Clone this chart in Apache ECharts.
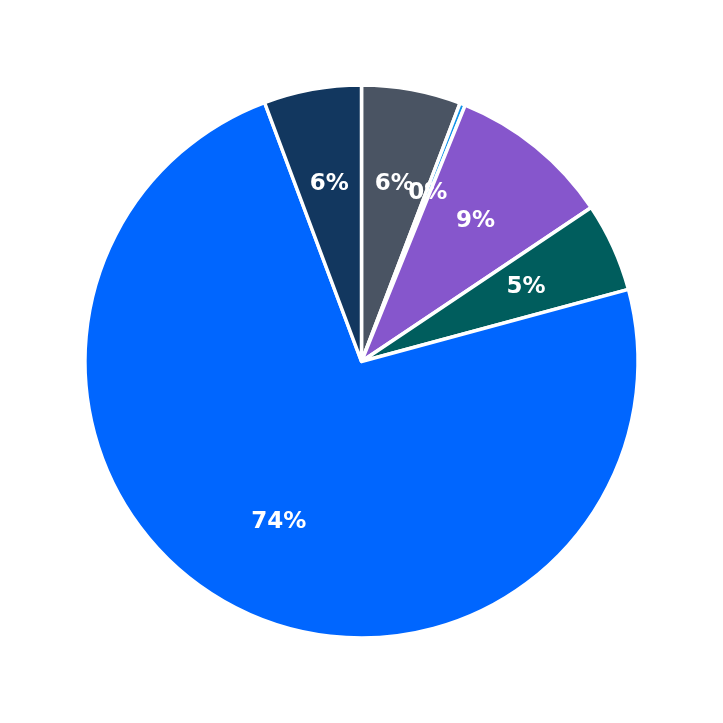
<!DOCTYPE html>
<html>
<head>
<meta charset="utf-8">
<script src="https://cdn.jsdelivr.net/npm/echarts@6/dist/echarts.min.js"></script>
<style>html,body{margin:0;padding:0;background:#fff}#c{width:723px;height:723px}</style>
</head>
<body>
<div id="c"></div>
<script>
const categories = ['A', 'B', 'C', 'D', 'E', 'F'];
const values = [5.8, 0.32, 9.48, 5.2, 73.5, 5.7];
const labels = ['6%', '0%', '9%', '5%', '74%', '6%'];
const colors = ['#4a5463', '#1192e8', '#8656cc', '#005d5d', '#0066ff', '#12375f'];

const data = categories.map((c, i) => ({ name: c, value: values[i], itemStyle: { color: colors[i] } }));
const labelData = categories.map((c, i) => ({ name: c, value: values[i], label: { formatter: labels[i] } }));

const chart = echarts.init(document.getElementById('c'));
chart.setOption({
  animation: false,
  series: [
    {
      type: 'pie', center: ['50%', '50%'], radius: [0, '76.5%'],
      startAngle: 90, clockwise: true, silent: true,
      itemStyle: { borderColor: '#fff', borderWidth: 3.5 },
      label: { show: false }, labelLine: { show: false },
      data: data
    },
    {
      type: 'pie', center: ['50%', '50%'], radius: ['22.1%', '76.3%'],
      startAngle: 90, clockwise: true, silent: true,
      avoidLabelOverlap: false, minShowLabelAngle: 0,
      labelLayout: { hideOverlap: false },
      itemStyle: { color: 'rgba(0,0,0,0)', borderWidth: 0 },
      label: { show: true, position: 'inside', color: '#fff', fontSize: 23, fontWeight: 'bold', fontFamily: 'DejaVu Sans', overflow: 'none' },
      labelLine: { show: false },
      data: labelData
    }
  ]
});
</script>
</body>
</html>
